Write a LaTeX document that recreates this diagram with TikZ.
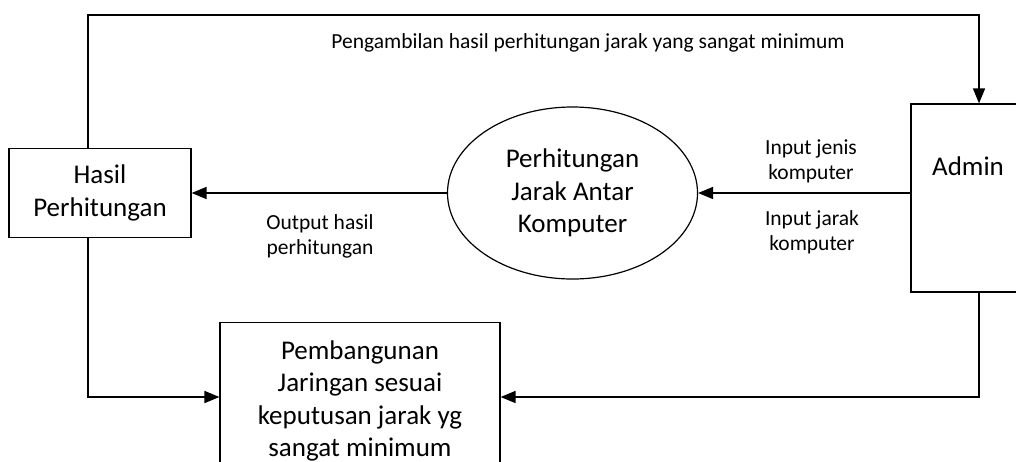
\documentclass[tikz,border=0pt]{standalone}
\usepackage{fontspec}
\setmainfont{Carlito}
\usetikzlibrary{arrows.meta,shapes.geometric}
\begin{document}
\begin{tikzpicture}[x=1pt,y=-1pt,
  bigtxt/.style={font=\fontsize{27}{32.5}\selectfont, align=center},
  smalltxt/.style={font=\fontsize{21.5}{25}\selectfont, align=center, inner sep=0pt},
  boxshape/.style={draw, line width=1.2pt, rectangle, inner sep=0pt, bigtxt},
  flow/.style={line width=1.6pt, -{Triangle[length=15pt,width=12pt]}}]
\clip (0,0) rectangle (1016,461);
\fill[white] (0,0) rectangle (1016,461);
\node[boxshape, minimum width=182pt, minimum height=89pt] (hasil) at (100,193) {Hasil\\Perhitungan};
\node[draw, line width=1.2pt, ellipse, inner sep=0pt, minimum width=250pt, minimum height=172pt, bigtxt] (proc) at (572.5,193) {Perhitungan\\Jarak Antar\\Komputer};
\node[boxshape, minimum width=114pt, minimum height=188pt] (admin) at (968,198) {};
\node[bigtxt, inner sep=0pt] (admintext) at (968,166) {Admin};
\node[boxshape, minimum width=280pt, minimum height=157pt] (pemb) at (360,401) {Pembangunan\\Jaringan sesuai\\keputusan jarak yg\\sangat minimum};
\coordinate (tl) at (88,15);
\coordinate (tr) at (979,15);
\coordinate (bl) at (88,397);
\coordinate (br) at (979,397);
\draw[flow] (hasil.north -| tl) -- (tl) -- (tr) -- (admin.north -| tr);
\draw[flow] (hasil.south -| bl) -- (bl) -- (bl -| pemb.west);
\draw[flow] (admin.south -| br) -- (br) -- (br -| pemb.east);
\draw[flow] (proc.west) -- (proc.west -| hasil.east);
\draw[flow] (admin.west |- proc.east) -- (proc.east);
\node[smalltxt] (ltop) at (588,43) {Pengambilan hasil perhitungan jarak yang sangat minimum};
\node[smalltxt] (lout) at (320,236) {Output hasil\\perhitungan};
\node[smalltxt] (ljenis) at (811,161) {Input jenis\\komputer};
\node[smalltxt] (ljarak) at (812,232) {Input jarak\\komputer};
\end{tikzpicture}
\end{document}
